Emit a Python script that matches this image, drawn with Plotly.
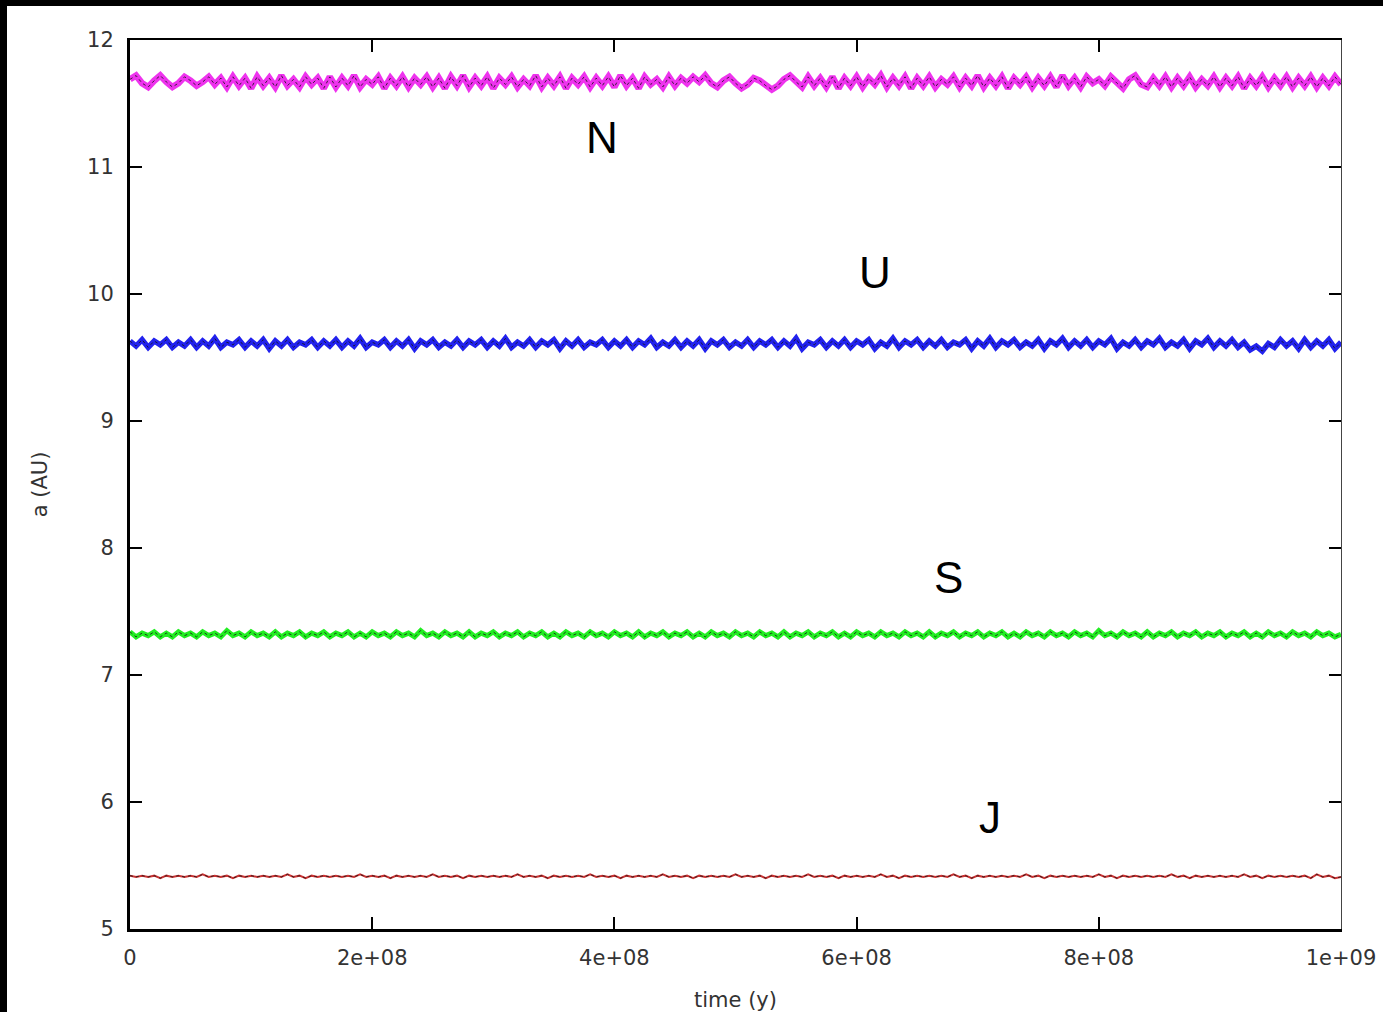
import plotly.graph_objects as go

# sample times (years), 201 samples from 0 to 1e9
time_y = [i * 5e6 for i in range(201)]

neptune_a = [
    11.69, 11.72, 11.66, 11.63, 11.68, 11.72, 11.67, 11.63, 11.66, 11.71,
    11.68, 11.64, 11.67, 11.71, 11.65, 11.70, 11.63, 11.71, 11.64, 11.70,
    11.62, 11.71, 11.64, 11.70, 11.63, 11.72, 11.64, 11.69, 11.63, 11.71,
    11.65, 11.70, 11.62, 11.71, 11.63, 11.70, 11.64, 11.72, 11.63, 11.69,
    11.65, 11.71, 11.62, 11.70, 11.64, 11.71, 11.63, 11.70, 11.65, 11.71,
    11.63, 11.70, 11.62, 11.71, 11.64, 11.72, 11.63, 11.70, 11.64, 11.71,
    11.62, 11.70, 11.65, 11.71, 11.63, 11.69, 11.64, 11.72, 11.63, 11.70,
    11.64, 11.71, 11.62, 11.70, 11.65, 11.71, 11.63, 11.70, 11.64, 11.71,
    11.63, 11.72, 11.64, 11.70, 11.62, 11.71, 11.65, 11.69, 11.63, 11.71,
    11.64, 11.70, 11.66, 11.71, 11.67, 11.72, 11.66, 11.63, 11.68, 11.71,
    11.66, 11.62, 11.65, 11.70, 11.68, 11.64, 11.61, 11.64, 11.69, 11.72,
    11.67, 11.63, 11.71, 11.64, 11.70, 11.63, 11.71, 11.62, 11.70, 11.64,
    11.71, 11.63, 11.70, 11.65, 11.72, 11.63, 11.70, 11.64, 11.71, 11.62,
    11.70, 11.64, 11.71, 11.63, 11.69, 11.65, 11.71, 11.63, 11.70, 11.64,
    11.72, 11.63, 11.70, 11.64, 11.71, 11.62, 11.70, 11.65, 11.71, 11.63,
    11.70, 11.64, 11.71, 11.63, 11.72, 11.64, 11.70, 11.63, 11.71, 11.66,
    11.69, 11.64, 11.71, 11.66, 11.62, 11.69, 11.72, 11.65, 11.63, 11.70,
    11.64, 11.71, 11.63, 11.70, 11.64, 11.71, 11.63, 11.69, 11.64, 11.71,
    11.63, 11.70, 11.64, 11.71, 11.62, 11.70, 11.64, 11.71, 11.63, 11.70,
    11.64, 11.71, 11.63, 11.70, 11.64, 11.71, 11.63, 11.70, 11.64, 11.71, 11.65,
]

uranus_a = [
    9.63, 9.59, 9.64, 9.58, 9.63, 9.60, 9.64, 9.58, 9.62, 9.59,
    9.64, 9.58, 9.63, 9.59, 9.65, 9.58, 9.62, 9.60, 9.64, 9.58,
    9.63, 9.59, 9.64, 9.57, 9.63, 9.59, 9.64, 9.58, 9.62, 9.60,
    9.64, 9.58, 9.63, 9.59, 9.64, 9.58, 9.63, 9.59, 9.65, 9.58,
    9.62, 9.60, 9.64, 9.58, 9.63, 9.59, 9.64, 9.57, 9.63, 9.60,
    9.64, 9.58, 9.62, 9.59, 9.64, 9.58, 9.63, 9.60, 9.64, 9.58,
    9.63, 9.59, 9.65, 9.58, 9.62, 9.59, 9.64, 9.58, 9.63, 9.60,
    9.64, 9.57, 9.63, 9.59, 9.64, 9.58, 9.62, 9.60, 9.64, 9.58,
    9.63, 9.59, 9.64, 9.58, 9.63, 9.60, 9.65, 9.58, 9.62, 9.59,
    9.64, 9.58, 9.63, 9.59, 9.64, 9.57, 9.63, 9.60, 9.64, 9.58,
    9.62, 9.59, 9.64, 9.58, 9.63, 9.60, 9.64, 9.58, 9.63, 9.59,
    9.65, 9.57, 9.62, 9.60, 9.64, 9.58, 9.63, 9.59, 9.64, 9.58,
    9.63, 9.60, 9.64, 9.57, 9.62, 9.59, 9.65, 9.58, 9.63, 9.60,
    9.64, 9.58, 9.63, 9.59, 9.64, 9.58, 9.62, 9.60, 9.64, 9.57,
    9.63, 9.59, 9.65, 9.58, 9.63, 9.60, 9.64, 9.58, 9.62, 9.59,
    9.64, 9.57, 9.63, 9.60, 9.65, 9.58, 9.63, 9.59, 9.64, 9.58,
    9.63, 9.60, 9.65, 9.57, 9.62, 9.59, 9.64, 9.58, 9.63, 9.60,
    9.65, 9.58, 9.62, 9.59, 9.64, 9.57, 9.63, 9.60, 9.65, 9.58,
    9.63, 9.59, 9.64, 9.58, 9.62, 9.56, 9.59, 9.55, 9.61, 9.58,
    9.64, 9.59, 9.63, 9.57, 9.64, 9.58, 9.63, 9.59, 9.64, 9.57, 9.62,
]

saturn_a = [
    7.34, 7.30, 7.33, 7.31, 7.34, 7.30, 7.33, 7.30, 7.34, 7.31,
    7.33, 7.30, 7.34, 7.31, 7.33, 7.30, 7.35, 7.31, 7.33, 7.30,
    7.34, 7.31, 7.33, 7.30, 7.34, 7.30, 7.33, 7.31, 7.34, 7.30,
    7.33, 7.31, 7.34, 7.30, 7.33, 7.31, 7.34, 7.30, 7.33, 7.30,
    7.34, 7.31, 7.33, 7.30, 7.34, 7.31, 7.33, 7.30, 7.35, 7.31,
    7.33, 7.30, 7.34, 7.31, 7.33, 7.30, 7.34, 7.30, 7.33, 7.31,
    7.34, 7.30, 7.33, 7.31, 7.34, 7.30, 7.33, 7.31, 7.34, 7.30,
    7.33, 7.30, 7.34, 7.31, 7.33, 7.30, 7.34, 7.31, 7.33, 7.30,
    7.34, 7.31, 7.33, 7.30, 7.34, 7.30, 7.33, 7.31, 7.34, 7.30,
    7.33, 7.31, 7.34, 7.30, 7.33, 7.30, 7.34, 7.31, 7.33, 7.30,
    7.34, 7.31, 7.33, 7.30, 7.34, 7.31, 7.33, 7.30, 7.34, 7.30,
    7.33, 7.31, 7.34, 7.30, 7.33, 7.31, 7.34, 7.30, 7.33, 7.30,
    7.34, 7.31, 7.33, 7.30, 7.34, 7.31, 7.33, 7.30, 7.34, 7.31,
    7.33, 7.30, 7.34, 7.30, 7.33, 7.31, 7.34, 7.30, 7.33, 7.31,
    7.34, 7.30, 7.33, 7.31, 7.34, 7.30, 7.33, 7.30, 7.34, 7.31,
    7.33, 7.30, 7.34, 7.31, 7.33, 7.30, 7.34, 7.31, 7.33, 7.30,
    7.35, 7.31, 7.33, 7.30, 7.34, 7.31, 7.33, 7.30, 7.34, 7.30,
    7.33, 7.31, 7.34, 7.30, 7.33, 7.31, 7.34, 7.30, 7.33, 7.31,
    7.34, 7.30, 7.33, 7.31, 7.34, 7.30, 7.33, 7.30, 7.34, 7.31,
    7.33, 7.30, 7.34, 7.31, 7.33, 7.30, 7.34, 7.31, 7.33, 7.30, 7.32,
]

jupiter_a = [
    5.42, 5.41, 5.42, 5.41, 5.42, 5.40, 5.42, 5.41, 5.42, 5.41,
    5.42, 5.41, 5.43, 5.41, 5.42, 5.41, 5.42, 5.40, 5.42, 5.41,
    5.42, 5.41, 5.42, 5.41, 5.42, 5.41, 5.43, 5.41, 5.42, 5.40,
    5.42, 5.41, 5.42, 5.41, 5.42, 5.41, 5.42, 5.41, 5.43, 5.41,
    5.42, 5.41, 5.42, 5.40, 5.42, 5.41, 5.42, 5.41, 5.42, 5.41,
    5.43, 5.41, 5.42, 5.41, 5.42, 5.40, 5.42, 5.41, 5.42, 5.41,
    5.42, 5.41, 5.42, 5.41, 5.43, 5.41, 5.42, 5.41, 5.42, 5.40,
    5.42, 5.41, 5.42, 5.41, 5.42, 5.41, 5.43, 5.41, 5.42, 5.41,
    5.42, 5.40, 5.42, 5.41, 5.42, 5.41, 5.42, 5.41, 5.43, 5.41,
    5.42, 5.41, 5.42, 5.40, 5.42, 5.41, 5.42, 5.41, 5.42, 5.41,
    5.43, 5.41, 5.42, 5.41, 5.42, 5.40, 5.42, 5.41, 5.42, 5.41,
    5.42, 5.41, 5.43, 5.41, 5.42, 5.41, 5.42, 5.40, 5.42, 5.41,
    5.42, 5.41, 5.42, 5.41, 5.43, 5.41, 5.42, 5.40, 5.42, 5.41,
    5.42, 5.41, 5.42, 5.41, 5.42, 5.41, 5.43, 5.41, 5.42, 5.40,
    5.42, 5.41, 5.42, 5.41, 5.42, 5.41, 5.42, 5.41, 5.43, 5.41,
    5.42, 5.40, 5.42, 5.41, 5.42, 5.41, 5.42, 5.41, 5.42, 5.41,
    5.43, 5.41, 5.42, 5.40, 5.42, 5.41, 5.42, 5.41, 5.42, 5.41,
    5.42, 5.41, 5.43, 5.41, 5.42, 5.40, 5.42, 5.41, 5.42, 5.41,
    5.42, 5.41, 5.42, 5.41, 5.43, 5.41, 5.42, 5.40, 5.42, 5.41,
    5.42, 5.41, 5.42, 5.41, 5.42, 5.40, 5.43, 5.41, 5.42, 5.40, 5.41,
]

planet_names = ["N", "U", "S", "J"]
planet_colors = ["#ee33ee", "#2222ee", "#22ee22", "#cc3333"]
planet_series = [neptune_a, uranus_a, saturn_a, jupiter_a]
planet_widths = [6.5, 5.5, 5, 2]

label_x = [3.9e8, 6.15e8, 6.76e8, 7.1e8]
label_y = [11.23, 10.17, 7.77, 5.88]

x_tick_vals = [0, 2e8, 4e8, 6e8, 8e8, 1e9]
x_tick_text = ["0", "2e+08", "4e+08", "6e+08", "8e+08", "1e+09"]
y_tick_vals = [5, 6, 7, 8, 9, 10, 11, 12]

fig = go.Figure()
for name, color, series, w in zip(planet_names, planet_colors, planet_series, planet_widths):
    fig.add_trace(go.Scatter(x=time_y, y=series, mode="lines", name=name,
                             line=dict(color=color, width=w), showlegend=False,
                             hoverinfo="skip"))
    fig.add_trace(go.Scatter(x=time_y, y=series, mode="lines", name=name,
                             line=dict(color="rgba(20,20,20,0.8)", width=1, dash="dot"),
                             showlegend=False))

# empty trace so top/right mirror axes are drawn
fig.add_trace(go.Scatter(x=[None], y=[None], xaxis="x2", yaxis="y2", showlegend=False))

for name, lx, ly in zip(planet_names, label_x, label_y):
    fig.add_annotation(x=lx, y=ly, text=name, showarrow=False,
                       font=dict(family="Liberation Sans, Arial, sans-serif", size=44, color="black"))

tick_font = dict(family="DejaVu Sans, sans-serif", size=21, color="#333333")

fig.update_layout(
    width=1383, height=1012,
    margin=dict(l=130, r=42, t=40, b=83, autoexpand=False),
    paper_bgcolor="white", plot_bgcolor="white",
    xaxis=dict(range=[0, 1e9], tickvals=x_tick_vals, ticktext=x_tick_text,
               ticks="inside", ticklen=12, tickwidth=1.5, tickcolor="black",
               showline=True, linewidth=3, linecolor="black", showgrid=False, zeroline=False,
               tickfont=tick_font, ticklabelstandoff=8, automargin=False,
               title=dict(text="time (y)", font=tick_font, standoff=24)),
    yaxis=dict(range=[5, 12], tickvals=y_tick_vals,
               ticks="inside", ticklen=12, tickwidth=1.5, tickcolor="black",
               showline=True, linewidth=3, linecolor="black", showgrid=False, zeroline=False,
               tickfont=tick_font, ticklabelstandoff=9, automargin=False,
               title=dict(text="a (AU)", font=tick_font, standoff=34)),
    xaxis2=dict(range=[0, 1e9], overlaying="x", side="top", anchor="y",
                tickvals=x_tick_vals, showticklabels=False, automargin=False,
                ticks="inside", ticklen=12, tickwidth=1.5, tickcolor="black",
                showline=True, linewidth=2, linecolor="black", showgrid=False, zeroline=False),
    yaxis2=dict(range=[5, 12], overlaying="y", side="right", anchor="x",
                tickvals=y_tick_vals, showticklabels=False, automargin=False,
                ticks="inside", ticklen=12, tickwidth=1.5, tickcolor="black",
                showline=True, linewidth=1.2, linecolor="#444444", showgrid=False, zeroline=False),
    shapes=[
        dict(type="rect", xref="paper", yref="paper",
             x0=-130 / 1211, x1=(7 - 130) / 1211, y0=-83 / 889, y1=1 + 40 / 889,
             fillcolor="black", line=dict(width=0), layer="above"),
        dict(type="rect", xref="paper", yref="paper",
             x0=-130 / 1211, x1=1 + 42 / 1211, y0=1 + 34 / 889, y1=1 + 40 / 889,
             fillcolor="black", line=dict(width=0), layer="above"),
    ],
)

fig.write_html("out.html")
